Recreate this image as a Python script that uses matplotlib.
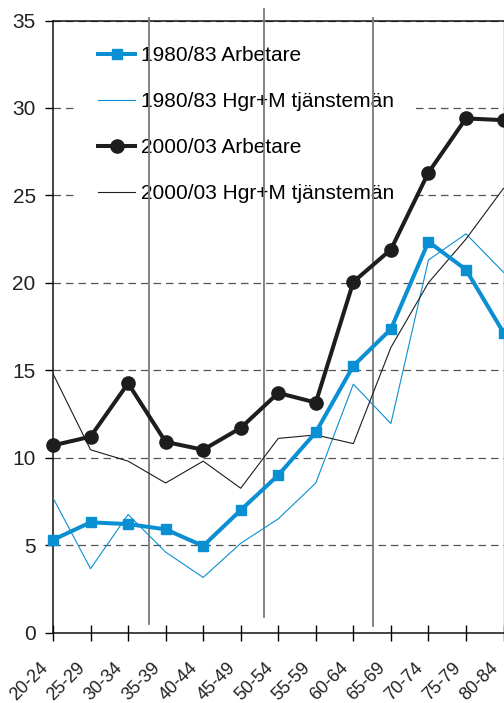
import numpy as np
import matplotlib
matplotlib.use("Agg")
import matplotlib.pyplot as plt
import matplotlib.transforms as mtransforms

plt.rcParams['font.family'] = ['Liberation Sans', 'DejaVu Sans']

# åldersgrupper
ages = ['20-24', '25-29', '30-34', '35-39', '40-44', '45-49', '50-54',
        '55-59', '60-64', '65-69', '70-74', '75-79', '80-84']

arb_80 = [5.3, 6.3, 6.2, 5.9, 4.95, 7.0, 9.0, 11.45, 15.25, 17.35, 22.35, 20.75, 17.15]
tj_80 = [7.7, 3.65, 6.75, 4.6, 3.15, 5.1, 6.5, 8.55, 14.2, 11.95, 21.3, 22.8, 20.6]
arb_00 = [10.7, 11.2, 14.25, 10.9, 10.45, 11.7, 13.7, 13.15, 20.05, 21.9, 26.3, 29.4, 29.3]
tj_00 = [14.8, 10.45, 9.8, 8.55, 9.8, 8.25, 11.1, 11.3, 10.8, 16.3, 20.0, 22.5, 25.4]

yticks = [0, 5, 10, 15, 20, 25, 30, 35]

blue = '#0b8fd3'
dark = '#1e1c1c'

fig = plt.figure(figsize=(5.04, 7.03), dpi=100)
ax = fig.add_axes([53 / 504, 1 - 632.5 / 703, 450.5 / 504, 612 / 703])

x = np.arange(len(ages))

# streckade stödlinjer
for v in yticks[1:]:
    ax.axhline(v, color='#555555', lw=0.9, ls=(0, (6, 4)), zorder=1)

# lodräta avdelare (som i originalet)
for sx, y0, y1 in [(2.55, 0.47, 35.17), (5.61, 0.9, 35.63), (8.53, 0.39, 35.17)]:
    ax.plot([sx, sx], [y0, y1], color='#7a7a7a', lw=1.3, zorder=3, clip_on=False)

ax.plot(x, arb_80, color=blue, lw=2.9, marker='s', ms=6.5, label='1980/83 Arbetare', zorder=5, clip_on=False)
ax.plot(x, tj_80, color=blue, lw=0.8, label='1980/83 Hgr+M tjänstemän', zorder=4)
ax.plot(x, arb_00, color=dark, lw=2.9, marker='o', ms=9.5, label='2000/03 Arbetare', zorder=5, clip_on=False)
ax.plot(x, tj_00, color=dark, lw=0.8, label='2000/03 Hgr+M tjänstemän', zorder=4)

ax.set_xlim(0, 12)
ax.set_ylim(0, 35)
ax.set_yticks(yticks)
ax.set_xticks(x)
ax.set_xticklabels(ages, rotation=45, ha='right', va='center', rotation_mode='anchor', fontsize=13)
ax.tick_params(axis='y', labelsize=15, length=6, width=1, pad=6.5, labelcolor='#222222')
ax.tick_params(axis='x', direction='inout', length=11, width=1, pad=18, labelcolor='#222222')

shift = mtransforms.ScaledTranslation(-8 / 100, 0, fig.dpi_scale_trans)
for lab in ax.get_xticklabels():
    lab.set_transform(lab.get_transform() + shift)

for s in ['left', 'bottom', 'top']:
    ax.spines[s].set_color('#111111')
    ax.spines[s].set_linewidth(1.1)
ax.spines['right'].set_color('#777777')
ax.spines['right'].set_linewidth(1.0)

leg = ax.legend(loc='upper left', bbox_to_anchor=(24 / 450.5, 1 - 5 / 612), borderaxespad=0,
                fontsize=15, frameon=True, fancybox=False, framealpha=1,
                facecolor='white', edgecolor='none', handlelength=1.8,
                handletextpad=0.25, labelspacing=1.29, borderpad=1.0)
leg.set_zorder(2)

fig.savefig('out.png', dpi=100)
